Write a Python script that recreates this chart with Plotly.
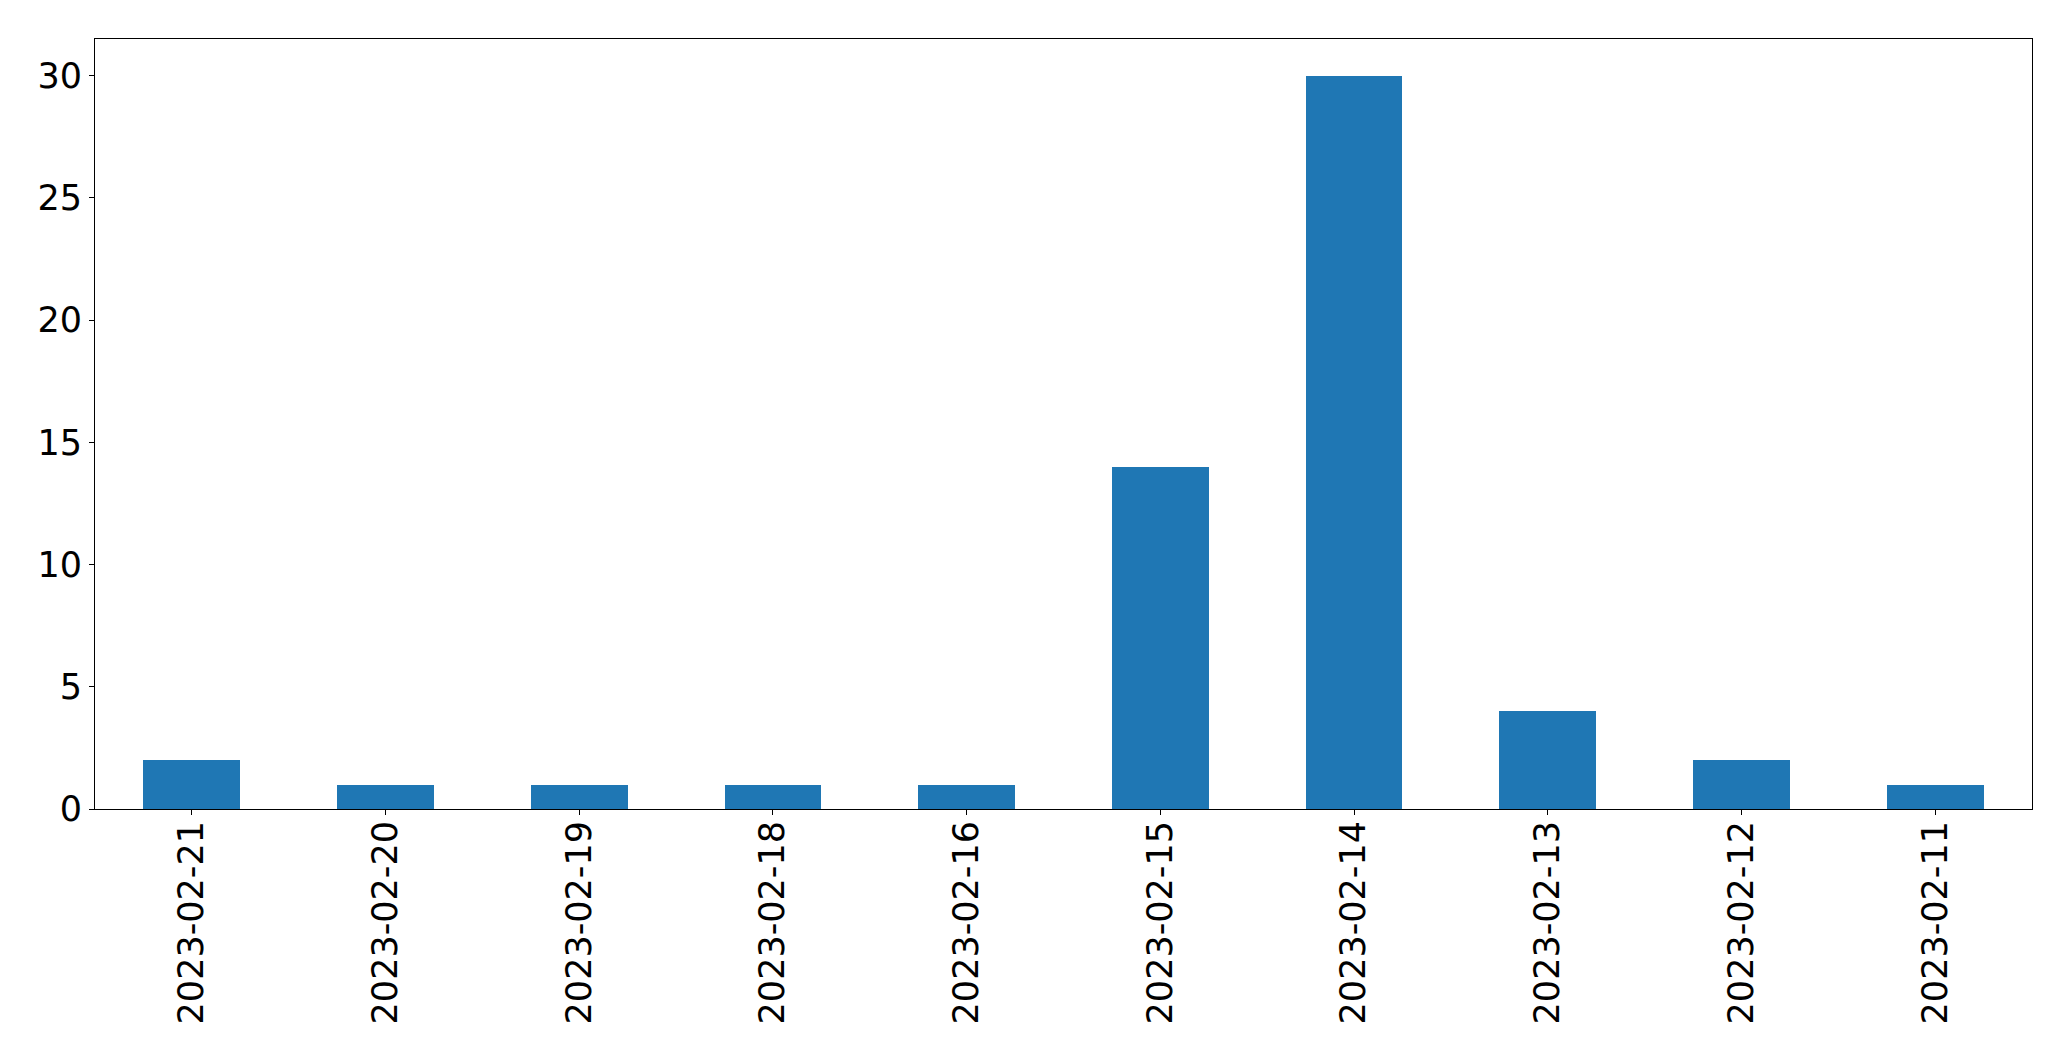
import plotly.graph_objects as go

dates = ["2023-02-21", "2023-02-20", "2023-02-19", "2023-02-18", "2023-02-16",
         "2023-02-15", "2023-02-14", "2023-02-13", "2023-02-12", "2023-02-11"]
counts = [2, 1, 1, 1, 1, 14, 30, 4, 2, 1]
y_ticks = [0, 5, 10, 15, 20, 25, 30]

fig = go.Figure(go.Bar(x=list(range(len(dates))), y=counts, width=0.5,
                       marker=dict(color="#1f77b4", line=dict(width=0))))

font = dict(family="DejaVu Sans", size=35, color="black")
fig.update_layout(
    width=2071, height=1061,
    margin=dict(l=95, r=39, t=39, b=252, pad=0),
    paper_bgcolor="white", plot_bgcolor="white",
    showlegend=False, bargap=0,
    font=font,
)
fig.update_xaxes(
    range=[-0.5, 9.5], tickmode="array", tickvals=list(range(len(dates))),
    ticktext=dates, tickangle=-90, ticks="outside", ticklen=5, tickwidth=1,
    tickcolor="black", showline=True, linecolor="black", linewidth=1,
    mirror=True, showgrid=False, zeroline=False, tickfont=font,
    ticklabelstandoff=-8,
)
fig.update_yaxes(
    range=[0, 31.5], tickmode="array", tickvals=y_ticks,
    ticks="outside", ticklen=5, tickwidth=1, tickcolor="black",
    showline=True, linecolor="black", linewidth=1, mirror=True,
    showgrid=False, zeroline=False, tickfont=font,
)
fig.write_html("out.html", config={"displayModeBar": False},
               post_script="document.body.style.margin='0';document.body.style.overflow='hidden';")
